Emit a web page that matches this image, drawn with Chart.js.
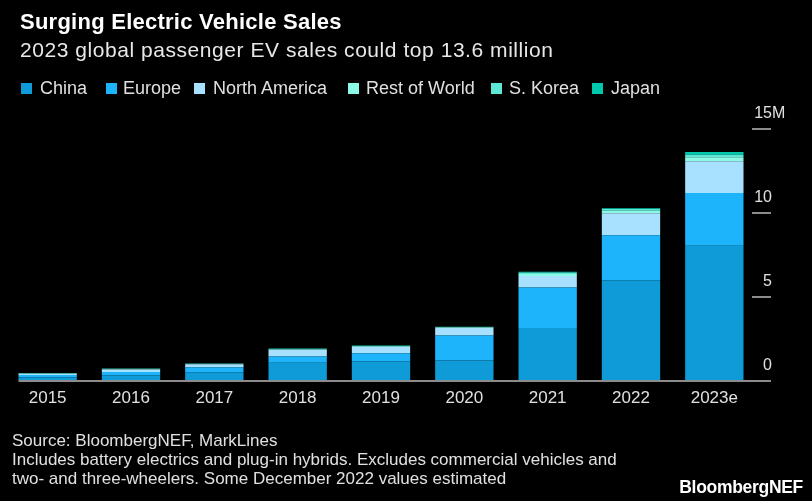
<!DOCTYPE html>
<html>
<head>
<meta charset="utf-8">
<script src="https://cdn.jsdelivr.net/npm/chart.js@4.4.0/dist/chart.umd.min.js"></script>
<style>
  body { margin: 0; background: #000; }
  #wrap {
    position: relative; width: 812px; height: 501px; background: #000; overflow: hidden;
    font-family: "Liberation Sans", Arial, sans-serif; color: #e0e0e0;
  }
  #myChart { position: absolute; left: 0; top: 0; }
  .title { position: absolute; left: 20px; top: 9px; font-size: 22px; font-weight: bold; color: #fff; letter-spacing: 0.25px; }
  .subtitle { position: absolute; left: 20px; top: 38px; font-size: 21px; color: #e8e8e8; letter-spacing: 0.55px; }
  #legend { position: absolute; left: 0; top: 78px; width: 812px; height: 22px; font-size: 18px; color: #e0e0e0; }
  #legend .box { position: absolute; top: 5px; width: 11px; height: 11px; }
  #legend .txt { position: absolute; top: 0; white-space: nowrap; line-height: 21px; }
  .note { position: absolute; left: 12px; top: 431px; font-size: 17px; line-height: 19px; color: #e0e0e0; }
  .brand { position: absolute; right: 9px; top: 477px; font-size: 17.5px; font-weight: bold; color: #fff; letter-spacing: -0.3px; }
</style>
</head>
<body>
<div id="wrap">
  <canvas id="myChart" width="812" height="501"></canvas>
  <div class="title">Surging Electric Vehicle Sales</div>
  <div class="subtitle">2023 global passenger EV sales could top 13.6 million</div>
  <div id="legend"></div>
  <div class="note">Source: BloombergNEF, MarkLines<br>Includes battery electrics and plug-in hybrids. Excludes commercial vehicles and<br>two- and three-wheelers. Some December 2022 values estimated</div>
  <div class="brand">BloombergNEF</div>
</div>
<script>
// ventas en millones
const years = ['2015', '2016', '2017', '2018', '2019', '2020', '2021', '2022', '2023e'];
const china = [0.18, 0.30, 0.50, 1.06, 1.14, 1.20, 3.13, 5.99, 8.04];
const europe = [0.15, 0.21, 0.30, 0.38, 0.49, 1.49, 2.42, 2.67, 3.14];
const northAmerica = [0.07, 0.15, 0.17, 0.40, 0.38, 0.44, 0.68, 1.32, 1.89];
const restOfWorld = [0.02, 0.03, 0.02, 0.03, 0.04, 0.04, 0.12, 0.15, 0.24];
const sKorea = [0.01, 0.01, 0.01, 0.02, 0.02, 0.02, 0.10, 0.10, 0.16];
const japan = [0.02, 0.02, 0.02, 0.02, 0.02, 0.02, 0.04, 0.05, 0.16];
const yTicks = [0, 5, 10, 15];

const series = [
  { label: 'China', data: china, color: '#0f9bd8' },
  { label: 'Europe', data: europe, color: '#1db4fc' },
  { label: 'North America', data: northAmerica, color: '#a8e1ff' },
  { label: 'Rest of World', data: restOfWorld, color: '#8cf8e6' },
  { label: 'S. Korea', data: sKorea, color: '#5ce8d4' },
  { label: 'Japan', data: japan, color: '#00c9ad' }
];

// leyenda: x del cuadrito y del texto
const legendBoxX = [21, 106, 194, 348, 491, 592];
const legendTextX = [40, 123, 213, 366, 509, 611];
const legend = document.getElementById('legend');
series.forEach((s, i) => {
  const box = document.createElement('span');
  box.className = 'box';
  box.style.left = legendBoxX[i] + 'px';
  box.style.background = s.color;
  const txt = document.createElement('span');
  txt.className = 'txt';
  txt.style.left = legendTextX[i] + 'px';
  txt.textContent = s.label;
  legend.appendChild(box);
  legend.appendChild(txt);
});

// marcas del eje y + linea base
const yAxisMarks = {
  id: 'yAxisMarks',
  afterDatasetsDraw(chart) {
    const ctx = chart.ctx;
    const y = chart.scales.y;
    const first = chart.getDatasetMeta(0).data[0];
    const right = chart.chartArea.right + 15;
    ctx.save();
    ctx.strokeStyle = '#8c8c8c';
    ctx.lineWidth = 2;
    ctx.fillStyle = '#e0e0e0';
    ctx.font = '16px "Liberation Sans", Arial, sans-serif';
    ctx.textBaseline = 'alphabetic';
    yTicks.forEach(v => {
      const py = Math.round(y.getPixelForValue(v));
      ctx.beginPath();
      ctx.moveTo(v === 0 ? first.x - first.width / 2 : right - 19, py);
      ctx.lineTo(right, py);
      ctx.stroke();
      ctx.textAlign = 'right';
      ctx.fillText(String(v), right + 1, py - 11);
      if (v === 15) {
        ctx.textAlign = 'left';
        ctx.fillText('M', right + 1, py - 11);
      }
    });
    ctx.restore();
  }
};

const ctx = document.getElementById('myChart').getContext('2d');
const myChart = new Chart(ctx, {
  type: 'bar',
  data: {
    labels: years,
    datasets: series.map(s => ({
      label: s.label,
      data: s.data,
      backgroundColor: s.color,
      borderWidth: 0,
      barPercentage: 0.7,
      categoryPercentage: 1
    }))
  },
  options: {
    responsive: false,
    animation: false,
    events: [],
    layout: { padding: { left: 6, right: 56, top: 129, bottom: 92 } },
    plugins: { legend: { display: false }, tooltip: { enabled: false } },
    scales: {
      x: {
        stacked: true,
        grid: { display: false },
        border: { display: false },
        ticks: { color: '#e0e0e0', padding: 0, font: { size: 17, family: '"Liberation Sans", Arial, sans-serif' } }
      },
      y: {
        stacked: true,
        display: false,
        min: 0,
        max: 15
      }
    }
  },
  plugins: [yAxisMarks]
});
</script>
</body>
</html>
